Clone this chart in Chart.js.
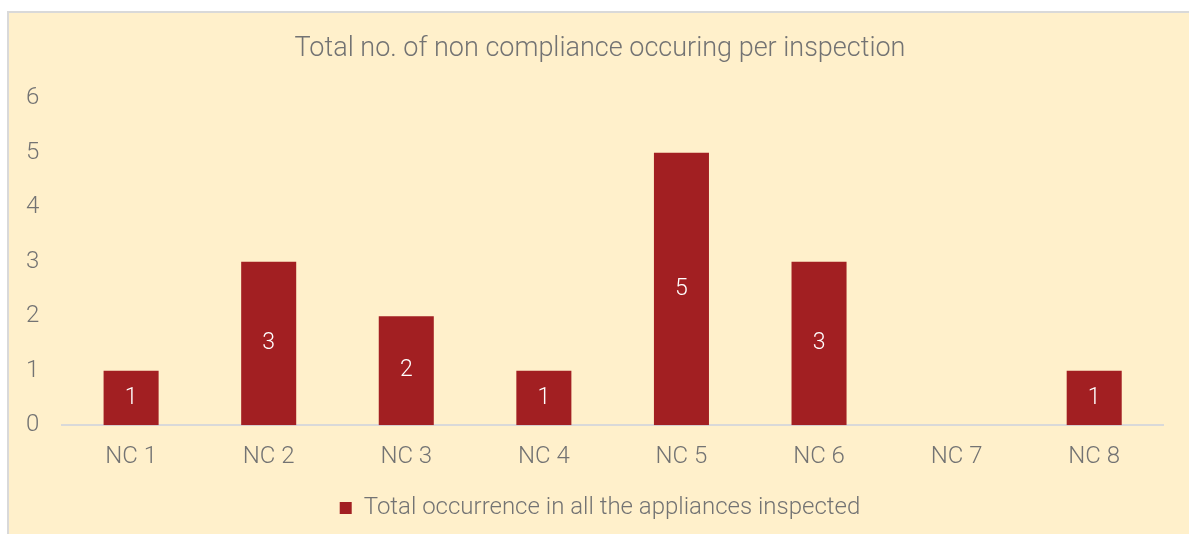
<!DOCTYPE html>
<html>
<head>
<meta charset="utf-8">
<script src="https://cdn.jsdelivr.net/npm/chart.js@4/dist/chart.umd.min.js"></script>
<style>
    html, body { margin: 0; padding: 0; background: #ffffff; overflow: hidden; }
    #box {
        position: absolute;
        left: 7px;
        top: 11px;
        width: 1182px;
        height: 523px;
        background: #FFF0CB;
        border-left: 2px solid #D9D9D9;
        border-top: 2px solid #D9D9D9;
    }
    #box canvas { display: block; }
</style>
</head>
<body>
<div id="box"><canvas id="ncChart" width="1180" height="521"></canvas></div>
<script>
// Datos del grafico
const categorias = ['NC 1', 'NC 2', 'NC 3', 'NC 4', 'NC 5', 'NC 6', 'NC 7', 'NC 8'];
const ocurrencias = [1, 3, 2, 1, 5, 3, 0, 1];
const ticksY = [0, 1, 2, 3, 4, 5, 6];

const textoGris = '#737373';
const fuente = 'Roboto';

// Etiquetas de valor dentro de cada barra (se omiten los ceros)
const etiquetasBarras = {
    id: 'etiquetasBarras',
    afterDatasetsDraw(chart) {
        const ctx = chart.ctx;
        const meta = chart.getDatasetMeta(0);
        ctx.save();
        ctx.fillStyle = '#ffffff';
        ctx.font = '300 23px ' + fuente;
        ctx.textAlign = 'center';
        ctx.textBaseline = 'middle';
        meta.data.forEach((bar, i) => {
            const v = chart.data.datasets[0].data[i];
            if (!v) return;
            ctx.fillText(String(v), bar.x, (bar.y + bar.base) / 2);
        });
        ctx.restore();
    }
};

const ctx = document.getElementById('ncChart').getContext('2d');
new Chart(ctx, {
    type: 'bar',
    data: {
        labels: categorias,
        datasets: [{
            label: 'Total occurrence in all the appliances inspected',
            data: ocurrencias,
            backgroundColor: '#A21F22',
            borderWidth: 0,
            barPercentage: 0.4,
            categoryPercentage: 1.0
        }]
    },
    options: {
        responsive: false,
        animation: false,
        layout: {
            padding: { left: 2, right: 0, top: 0, bottom: 4 }
        },
        scales: {
            x: {
                grid: { display: false },
                border: { display: true, color: '#D9D9D9', width: 2 },
                ticks: {
                    color: textoGris,
                    font: { family: fuente, size: 24, weight: '300' },
                    padding: 9
                },
                // espacio extra entre las etiquetas y la leyenda
                afterFit(axis) {
                    axis.height += 4;
                }
            },
            y: {
                min: 0,
                max: 6,
                afterBuildTicks(axis) {
                    axis.ticks = ticksY.map(v => ({ value: v }));
                },
                grid: { display: false },
                border: { display: false },
                ticks: {
                    color: textoGris,
                    font: { family: fuente, size: 24, weight: '300' },
                    padding: 15
                }
            },
            // eje vacio a la derecha, solo deja margen al area del grafico
            margenDer: {
                type: 'linear',
                position: 'right',
                grid: { display: false },
                border: { display: false },
                ticks: { display: false },
                afterFit(axis) {
                    axis.width = 26;
                }
            }
        },
        plugins: {
            legend: {
                position: 'bottom',
                labels: {
                    color: textoGris,
                    font: { family: fuente, size: 24, weight: '300' },
                    boxWidth: 12,
                    boxHeight: 12,
                    padding: 12
                }
            },
            title: {
                display: true,
                text: 'Total no. of non compliance occuring per inspection',
                color: textoGris,
                font: { family: fuente, size: 27, weight: '300' },
                padding: { top: 20, bottom: 33 }
            },
            tooltip: { enabled: false }
        }
    },
    plugins: [etiquetasBarras]
});
</script>
</body>
</html>
